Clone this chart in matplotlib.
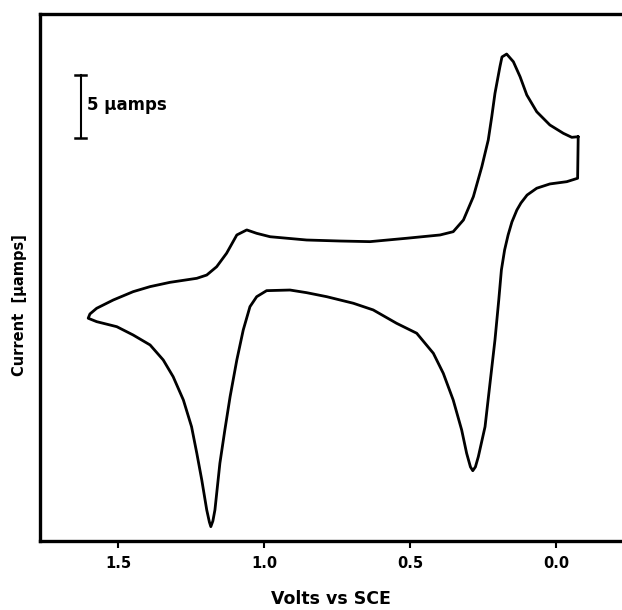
import matplotlib
matplotlib.use("Agg")
import matplotlib.pyplot as plt

# Cyclic voltammogram: potential (V vs SCE) and current (uA, arbitrary zero)
volts = [
    -0.076, -0.054, -0.025, 0.021, 0.066, 0.100, 0.123, 0.146, 0.169, 0.185,
    0.192, 0.209, 0.220, 0.232, 0.254, 0.283, 0.317, 0.352, 0.397, 0.511,
    0.637, 0.740, 0.854, 0.979, 1.025, 1.059, 1.082, 1.093, 1.128, 1.162,
    1.196, 1.230, 1.322, 1.390, 1.448, 1.516, 1.573, 1.596, 1.602,
    1.573, 1.504, 1.448, 1.390, 1.345, 1.311, 1.276, 1.248, 1.230, 1.213,
    1.196, 1.187, 1.182, 1.175, 1.168, 1.151, 1.134, 1.116, 1.093, 1.071,
    1.048, 1.025, 0.991, 0.911, 0.854, 0.785, 0.694, 0.626, 0.546, 0.477,
    0.420, 0.386, 0.352, 0.323, 0.306, 0.293, 0.285, 0.276, 0.266, 0.243,
    0.226, 0.209, 0.196, 0.187, 0.176, 0.164, 0.151, 0.134, 0.120, 0.099,
    0.066, 0.021, -0.037, -0.074, -0.076,
]
current = [
    12.96, 12.91, 13.23, 13.89, 14.94, 16.27, 17.72, 18.91, 19.52, 19.29,
    18.52, 16.40, 14.55, 12.70, 10.58, 8.20, 6.35, 5.42, 5.16, 4.90,
    4.63, 4.68, 4.76, 5.02, 5.29, 5.56, 5.29, 5.16, 3.71, 2.64,
    1.98, 1.72, 1.40, 1.06, 0.66, 0.00, -0.66, -1.11, -1.45,
    -1.72, -2.12, -2.78, -3.57, -4.76, -6.09, -7.94, -10.06, -12.17, -14.29,
    -16.67, -17.62, -17.99, -17.54, -16.67, -12.96, -10.32, -7.67, -4.76, -2.38,
    -0.53, 0.26, 0.74, 0.79, 0.58, 0.26, -0.26, -0.79, -1.85, -2.64,
    -4.23, -5.82, -7.94, -10.32, -12.17, -13.25, -13.55, -13.25, -12.44, -10.06,
    -6.61, -3.17, 0.00, 2.38, 3.97, 5.16, 6.19, 7.14, 7.70, 8.33,
    8.87, 9.21, 9.39, 9.66, 12.96,
]

xticks = [1.5, 1.0, 0.5, 0.0]
xtick_labels = ["1.5", "1.0", "0.5", "0.0"]

scale_bar_v = 1.628
scale_bar_top = 17.86
scale_bar_len = 5.0
scale_bar_text = "5 \u03bcamps"

x_label = "Volts vs SCE"
y_label = "Current  [\u03bcamps]"

plt.rcParams['font.family'] = ['DejaVu Sans']

fig = plt.figure(figsize=(6.22, 6.10), dpi=100)
ax = fig.add_axes([40 / 622, 1 - 541 / 610, 1 - 40 / 622, (541 - 13.6) / 610])

ax.plot(volts, current, color="black", lw=2.0, solid_joinstyle="round",
        solid_capstyle="round")

ax.set_xlim(1.767, -0.226)
ax.set_ylim(-19.13, 22.73)

for side in ["left", "bottom", "top"]:
    ax.spines[side].set_linewidth(2.4)
ax.spines["right"].set_visible(False)

ax.set_xticks(xticks)
ax.set_xticklabels(xtick_labels, fontsize=10.5, fontweight="bold")
ax.tick_params(axis="x", direction="out", length=5, width=1.5, pad=6)
ax.set_yticks([])

# scale bar
ax.plot([scale_bar_v, scale_bar_v], [scale_bar_top - scale_bar_len, scale_bar_top],
        color="black", lw=1.5)
for yy in [scale_bar_top, scale_bar_top - scale_bar_len]:
    ax.plot([scale_bar_v + 0.019, scale_bar_v - 0.019], [yy, yy], color="black", lw=1.8)
ax.text(scale_bar_v - 0.022, scale_bar_top - scale_bar_len * 0.48, scale_bar_text,
        fontsize=12, fontweight="bold", ha="left", va="center")

fig.text(331 / 622, 1 - 599 / 610, x_label, fontsize=12.5, fontweight="bold",
         ha="center", va="center")
fig.text(20 / 622, 1 - 305 / 610, y_label, fontsize=10.5, fontweight="bold",
         ha="center", va="center", rotation=90)

fig.savefig("out.png", dpi=100)
